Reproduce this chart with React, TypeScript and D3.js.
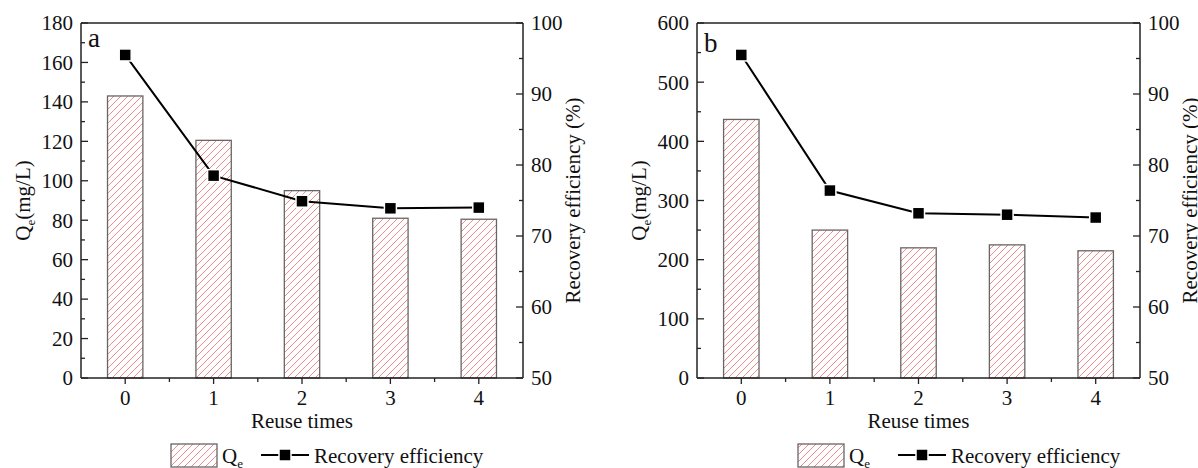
import { useEffect } from "react";
import * as d3 from "d3";

// Reuse cycles on the x axis
const reuseTimes = [0, 1, 2, 3, 4];

// Panel a
const qeA = [143, 120.5, 95, 81, 80.5];
const recoveryA = [95.5, 78.5, 74.9, 73.9, 74.0];
const leftTicksA = [0, 20, 40, 60, 80, 100, 120, 140, 160, 180];

// Panel b
const qeB = [437, 250, 220, 225, 215];
const recoveryB = [95.5, 76.4, 73.2, 73.0, 72.6];
const leftTicksB = [0, 100, 200, 300, 400, 500, 600];

const rightTicks = [50, 60, 70, 80, 90, 100];

const FONT = "Liberation Serif";
const AXIS = "#222";
const FS = 21;

interface PanelProps {
  left: number;
  right: number;
  qe: number[];
  recovery: number[];
  leftTicks: number[];
  letter: string;
  letterX: number;
  letterY: number;
  legendX: number;
  legendLineGap: number;
}

function Panel({ left, right, qe, recovery, leftTicks, letter, letterX, letterY, legendX, legendLineGap }: PanelProps) {
  const top = 23;
  const bottom = 378;

  const x = d3.scaleLinear().domain([-0.5, 4.5]).range([left, right]);
  const yL = d3.scaleLinear().domain([leftTicks[0], leftTicks[leftTicks.length - 1]]).range([bottom, top]);
  const yR = d3.scaleLinear().domain([50, 100]).range([bottom, top]);

  const leftStep = leftTicks[1] - leftTicks[0];
  const leftMinor = leftTicks.slice(0, -1).map((t) => t + leftStep / 2);
  const rightMinor = rightTicks.slice(0, -1).map((t) => t + 5);
  const xMinor = reuseTimes.slice(0, -1).map((t) => t + 0.5);

  const barW = (x(1) - x(0)) * 0.4;

  const line = d3.line<number>()
    .x((_, i) => x(reuseTimes[i]))
    .y((d) => yR(d));

  const sq = 12;
  const midY = (top + bottom) / 2;
  const cx = (left + right) / 2;

  return (
    <g fill="#111">
      {/* bars */}
      {qe.map((v, i) => (
        <rect
          key={"b" + i}
          x={x(reuseTimes[i]) - barW / 2}
          y={yL(v)}
          width={barW}
          height={yL(leftTicks[0]) - yL(v)}
          fill="url(#hatch)"
          stroke="#666"
          strokeWidth={1.3}
        />
      ))}

      {/* recovery line */}
      <path d={line(recovery) ?? ""} fill="none" stroke="#000" strokeWidth={2} />
      {recovery.map((v, i) => (
        <rect
          key={"m" + i}
          x={x(reuseTimes[i]) - sq / 2}
          y={yR(v) - sq / 2}
          width={sq}
          height={sq}
          fill="#000"
          stroke="#fff"
          strokeWidth={1.5}
        />
      ))}

      {/* frame */}
      <line x1={left} x2={right} y1={top} y2={top} stroke={AXIS} strokeWidth={1.5} />
      <line x1={left} x2={right} y1={bottom} y2={bottom} stroke={AXIS} strokeWidth={1.5} />
      <line x1={left} x2={left} y1={top} y2={bottom} stroke={AXIS} strokeWidth={1.5} />
      <line x1={right} x2={right} y1={top} y2={bottom} stroke={AXIS} strokeWidth={1.5} />

      {/* left axis */}
      {leftTicks.map((t) => (
        <g key={"l" + t}>
          <line x1={left} x2={left + 7} y1={yL(t)} y2={yL(t)} stroke={AXIS} strokeWidth={1.3} />
          <text x={left - 8} y={yL(t)} dy="0.35em" textAnchor="end" fontSize={FS}>{t}</text>
        </g>
      ))}
      {leftMinor.map((t) => (
        <line key={"lm" + t} x1={left} x2={left + 4} y1={yL(t)} y2={yL(t)} stroke={AXIS} strokeWidth={1.3} />
      ))}

      {/* right axis */}
      {rightTicks.map((t) => (
        <g key={"r" + t}>
          <line x1={right} x2={right - 7} y1={yR(t)} y2={yR(t)} stroke={AXIS} strokeWidth={1.3} />
          <text x={right + 8} y={yR(t)} dy="0.35em" textAnchor="start" fontSize={FS}>{t}</text>
        </g>
      ))}
      {rightMinor.map((t) => (
        <line key={"rm" + t} x1={right} x2={right - 4} y1={yR(t)} y2={yR(t)} stroke={AXIS} strokeWidth={1.3} />
      ))}

      {/* bottom axis */}
      {reuseTimes.map((t) => (
        <g key={"x" + t}>
          <line x1={x(t)} x2={x(t)} y1={bottom} y2={bottom + 6} stroke={AXIS} strokeWidth={1.3} />
          <text x={x(t)} y={405} textAnchor="middle" fontSize={FS}>{t}</text>
        </g>
      ))}
      {xMinor.map((t) => (
        <line key={"xm" + t} x1={x(t)} x2={x(t)} y1={bottom} y2={bottom + 4} stroke={AXIS} strokeWidth={1.3} />
      ))}

      {/* titles */}
      <text x={cx} y={428} textAnchor="middle" fontSize={FS}>Reuse times</text>
      <text transform={`translate(${left - 51},${midY}) rotate(-90)`} textAnchor="middle" fontSize={FS}>
        Q<tspan fontSize={13} dy={5}>e</tspan><tspan dy={-5}>(mg/L)</tspan>
      </text>
      <text transform={`translate(${right + 57},${midY}) rotate(-90)`} textAnchor="middle" fontSize={FS}>
        Recovery efficiency (%)
      </text>
      <text x={letterX} y={letterY} fontSize={27}>{letter}</text>

      {/* legend */}
      <rect x={legendX} y={444} width={46} height={23} fill="url(#hatch)" stroke="#666" strokeWidth={1.3} />
      <text x={legendX + 51} y={463} fontSize={FS}>
        Q<tspan fontSize={13} dy={5}>e</tspan>
      </text>
      <line x1={legendX + legendLineGap} x2={legendX + legendLineGap + 48} y1={455} y2={455} stroke="#000" strokeWidth={2} />
      <rect x={legendX + legendLineGap + 24 - sq / 2} y={455 - sq / 2} width={sq} height={sq} fill="#000" stroke="#fff" strokeWidth={1.5} />
      <text x={legendX + legendLineGap + 53} y={463} fontSize={FS}>Recovery efficiency</text>
    </g>
  );
}

export default function App() {
  useEffect(() => {
    document.body.style.margin = "0";
  }, []);

  return (
    <svg width={1198} height={468} style={{ display: "block", background: "#fff", fontFamily: FONT }}>
      <defs>
        <pattern id="hatch" patternUnits="userSpaceOnUse" width={7} height={7}>
          <path d="M0,7 L7,0 M-1,1 L1,-1 M6,8 L8,6" stroke="#f28a8a" strokeWidth={1} />
        </pattern>
      </defs>
      <rect width={1198} height={468} fill="#fff" />
      <Panel
        left={81}
        right={523}
        qe={qeA}
        recovery={recoveryA}
        leftTicks={leftTicksA}
        letter="a"
        letterX={88}
        letterY={47}
        legendX={171}
        legendLineGap={90}
      />
      <Panel
        left={697}
        right={1140}
        qe={qeB}
        recovery={recoveryB}
        leftTicks={leftTicksB}
        letter="b"
        letterX={704}
        letterY={52}
        legendX={798}
        legendLineGap={100}
      />
    </svg>
  );
}
